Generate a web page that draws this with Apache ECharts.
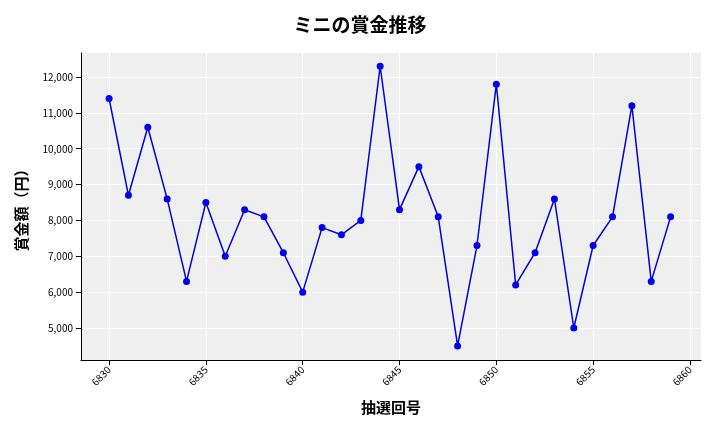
<!DOCTYPE html>
<html><head><meta charset="utf-8">
<script src="https://cdn.jsdelivr.net/npm/echarts@6/dist/echarts.min.js"></script>
<style>html,body{margin:0;padding:0;background:#fff}#c{width:720px;height:432px}</style>
</head><body><div id="c"></div>
<script>
const draws = [6830,6831,6832,6833,6834,6835,6836,6837,6838,6839,6840,6841,6842,6843,6844,6845,6846,6847,6848,6849,6850,6851,6852,6853,6854,6855,6856,6857,6858,6859];
const prizes = [11400,8700,10600,8600,6300,8500,7000,8300,8100,7100,6000,7800,7600,8000,12300,8300,9500,8100,4500,7300,11800,6200,7100,8600,5000,7300,8100,11200,6300,8100];
const xTicks = [6830,6835,6840,6845,6850,6855,6860];
const yTicks = [5000,6000,7000,8000,9000,10000,11000,12000];
const font = '"Noto Sans CJK JP", "Noto Sans", sans-serif';
const chart = echarts.init(document.getElementById('c'));
chart.setOption({
  animation:false,
  title:{text:'ミニの賞金推移',left:'center',top:10,textStyle:{fontFamily:font,fontSize:19,fontWeight:'bold',color:'#000'}},
  grid:{left:81,right:19,top:53,bottom:72,backgroundColor:'#efefef',show:true,borderWidth:0},
  xAxis:{type:'value',min:6828.55,max:6860.57,name:'抽選回号',nameLocation:'middle',nameGap:40,
    nameTextStyle:{fontFamily:font,fontSize:15,fontWeight:'bold',color:'#000'},
    axisLine:{show:true,onZero:false,lineStyle:{color:'#000'}},
    axisTick:{show:true,customValues:xTicks,lineStyle:{color:'#000'}},
    axisLabel:{customValues:xTicks,rotate:45,fontSize:10,color:'#000',fontFamily:font,formatter:v=>String(v)},
    splitLine:{show:true,lineStyle:{color:'#fff'}}},
  yAxis:{type:'value',min:4108,max:12669,name:'賞金額（円）',nameLocation:'middle',nameGap:52,
    nameTextStyle:{fontFamily:font,fontSize:15,fontWeight:'bold',color:'#000'},
    axisLine:{show:true,lineStyle:{color:'#000'}},
    axisTick:{show:true,customValues:yTicks,lineStyle:{color:'#000'}},
    axisLabel:{customValues:yTicks,fontSize:10,color:'#000',fontFamily:font,
      formatter:v=>v.toLocaleString('en-US')},
    splitLine:{show:true,lineStyle:{color:'#fff'}}},
  series:[{type:'line',data:draws.map((d,i)=>[d,prizes[i]]),symbol:'circle',symbolSize:7,
    lineStyle:{color:'#0000dd',width:1.5},itemStyle:{color:'#0000ee'}}]
});
</script></body></html>
